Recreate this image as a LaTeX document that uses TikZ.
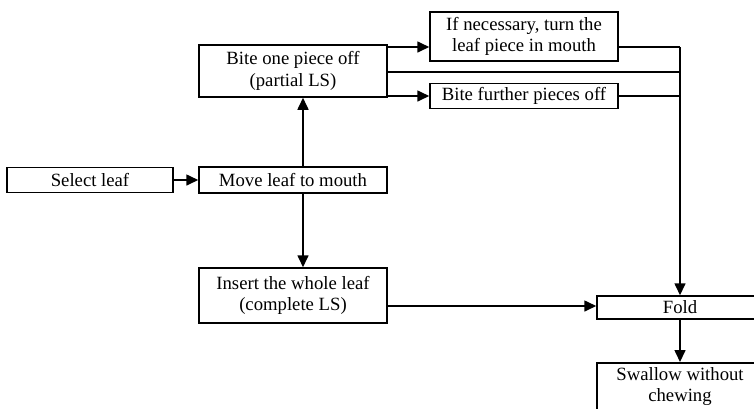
\documentclass[tikz,border=0pt]{standalone}
\usepackage{fontspec}
\setmainfont{Liberation Serif}
\usetikzlibrary{arrows.meta}
\begin{document}
\begin{tikzpicture}[x=1pt,y=-1pt,
  txt/.style={inner sep=0pt,align=center,font=\fontsize{18.7}{21.5}\selectfont},
  box/.style={txt,draw,line width=1.5pt},
  arr/.style={line width=1.6pt,-{Triangle[length=12pt,width=11pt]}},
  ln/.style={line width=1.6pt}]
\useasboundingbox (0,0) rectangle (754,408);
\node[box,minimum width=166pt,minimum height=25pt] (select) at (90,180) {Select leaf};
\node[box,minimum width=188pt,minimum height=26pt] (move) at (293,180) {Move leaf to mouth};
\node[box,minimum width=188pt,minimum height=52pt] (bite) at (293,71) {Bite one piece off\\(partial LS)};
\node[box,minimum width=188pt,minimum height=49pt] (turn) at (524,36.5) {If necessary, turn the\\leaf piece in mouth};
\node[box,minimum width=188pt,minimum height=25pt] (further) at (524,96) {Bite further pieces off};
\node[box,minimum width=188pt,minimum height=55pt] (insert) at (293,295.5) {Insert the whole leaf\\(complete LS)};
\node[box,minimum width=166pt,minimum height=23pt] (fold) at (680,307.5) {Fold};
\node[box,minimum width=166pt,minimum height=60pt,anchor=north] (swallow) at (680,362) {};
\node[txt,anchor=north] (swallowtext) at ([yshift=-5pt]swallow.north) {Swallow without\\chewing};
\coordinate (bus) at (680,0);
\coordinate (ytop) at (0,47);
\coordinate (ymid) at (0,72);
\coordinate (yfold) at (0,306);
\draw[arr] (select.east) -- (move.west);
\draw[arr] ([xshift=10pt]move.north) -- ([xshift=10pt]bite.south);
\draw[arr] ([xshift=10pt]move.south) -- ([xshift=10pt]insert.north);
\draw[arr] (bite.east |- ytop) -- (turn.west |- ytop);
\draw[ln] (bite.east |- ymid) -- (bus |- ymid);
\draw[arr] (bite.east |- further.west) -- (further.west);
\draw[ln] (turn.east |- ytop) -- (bus |- ytop);
\draw[ln] (further.east) -- (bus |- further.east);
\draw[arr] (bus |- ytop) -- (fold.north);
\draw[arr] (insert.east |- yfold) -- (fold.west |- yfold);
\draw[arr] (fold.south) -- (swallow.north);
\end{tikzpicture}
\end{document}
